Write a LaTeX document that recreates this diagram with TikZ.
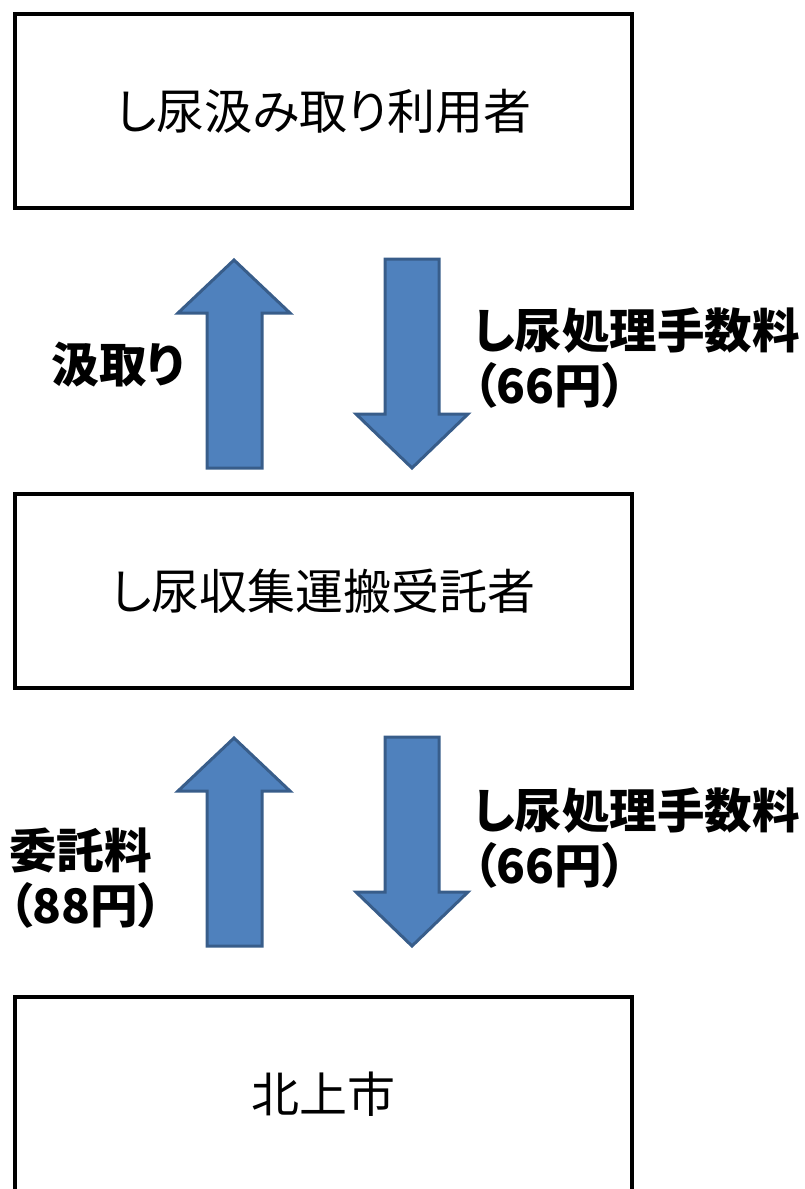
\documentclass[tikz,border=0pt]{standalone}
\usepackage{fontspec}
\setmainfont{Noto Sans CJK JP}[RawFeature=+palt]
\usepackage{tikz}
\usetikzlibrary{positioning}
\definecolor{arrowfill}{HTML}{4F81BD}
\definecolor{arrowline}{HTML}{385D8A}
\tikzstyle{stage} = [rectangle, draw=black, line width=4pt, minimum width=617pt, minimum height=194pt, font=\fontsize{48}{55}\selectfont]
\tikzstyle{blockarrow} = [draw=arrowline, line width=3pt, fill=arrowfill, line join=miter]
\tikzstyle{flowtext} = [font=\bfseries\fontsize{47.5}{55}\selectfont, align=left, inner sep=0pt]

\begin{document}
\begin{tikzpicture}[x=1pt, y=-1pt]
        \useasboundingbox (0,0) rectangle (804,1189);

        \node (user) [stage] at (323.5,111) {し尿汲み取り利用者};
        \node (collector) [stage, below=282pt of user] {し尿収集運搬受託者};
        \node (city) [stage, below=305pt of collector] {北上市};

        % arrows between user and collector
        \draw [blockarrow] (234,260) -- (290,313) -- (262,313) -- (262,468) -- (207,468) -- (207,313) -- (178,313) -- cycle;
        \draw [blockarrow] (385,259) -- (439,259) -- (439,414) -- (468,414) -- (412,468) -- (356,414) -- (385,414) -- cycle;
        % arrows between collector and city
        \begin{scope}[shift={(0,478)}]
        \draw [blockarrow] (234,260) -- (290,313) -- (262,313) -- (262,468) -- (207,468) -- (207,313) -- (178,313) -- cycle;
        \draw [blockarrow] (385,259) -- (439,259) -- (439,414) -- (468,414) -- (412,468) -- (356,414) -- (385,414) -- cycle;
        \end{scope}

        \node (pumping) [flowtext] at (118,365) {汲取り};
        \node (fee1) [flowtext, anchor=west] at (473,358) {し尿処理手数料\\（66円）};
        \node (fee2) [flowtext, anchor=west] at (473,838) {し尿処理手数料\\（66円）};
        \node (commission) [flowtext, anchor=west] at (9,878) {委託料\\（88円）};

\end{tikzpicture}
\end{document}
